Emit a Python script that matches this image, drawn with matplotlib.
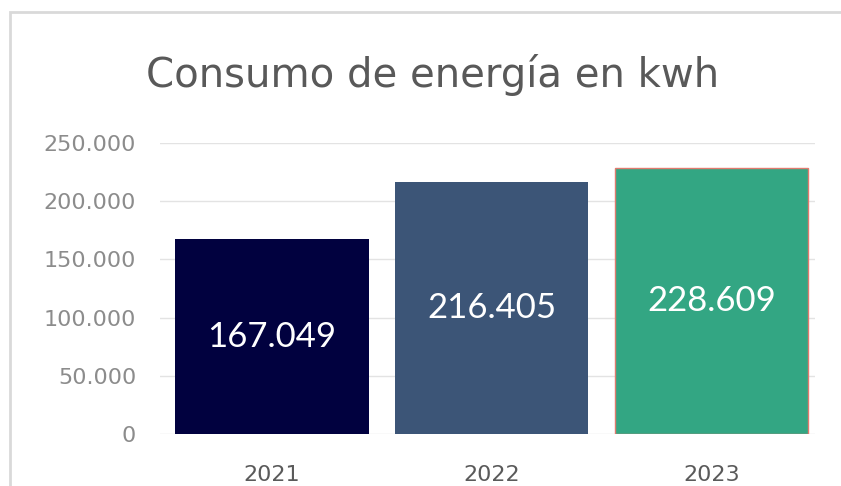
import matplotlib.pyplot as plt
from matplotlib.patches import Rectangle
from matplotlib.ticker import FuncFormatter

# datos
anios = ["2021", "2022", "2023"]
consumo = [167049, 216405, 228609]
colores = ["#01013f", "#3c5577", "#33a683"]
yticks = [0, 50000, 100000, 150000, 200000, 250000]

def miles(v, pos=None):
    return f"{int(v):,}".replace(",", ".")

fig = plt.figure(figsize=(8.41, 4.86), dpi=100)
ax = fig.add_axes([0.19, 0.107, 0.779, 0.599])

bars = ax.bar(anios, consumo, width=0.88, color=colores, zorder=3)
bars[2].set_edgecolor("#e07b6f")
bars[2].set_linewidth(1)

for b, v in zip(bars, consumo):
    ax.text(b.get_x() + b.get_width() / 2, v / 2, miles(v), color="white",
            ha="center", va="center", fontsize=25, family="Lato", zorder=4)

ax.set_ylim(0, 250000)
ax.set_xlim(-0.51, 2.47)
ax.set_yticks(yticks)
ax.yaxis.set_major_formatter(FuncFormatter(miles))
ax.grid(axis="y", color="#e3e3e3", linewidth=1, zorder=0)
for s in ax.spines.values():
    s.set_visible(False)
ax.tick_params(axis="y", length=0, pad=17, labelsize=16, labelcolor="#8c8c8c")
ax.tick_params(axis="x", length=0, pad=22, labelsize=16, labelcolor="#5a5a5a")

fig.text(0.514, 0.845, "Consumo de energía en kwh", ha="center", va="center",
         fontsize=29, color="#595959")

# marco gris
fig.patches.append(Rectangle((0.012, -0.1), 1.2, 1.075, transform=fig.transFigure,
                             fill=False, edgecolor="#d9d9d9", linewidth=2))

fig.savefig("out.png", dpi=100)
